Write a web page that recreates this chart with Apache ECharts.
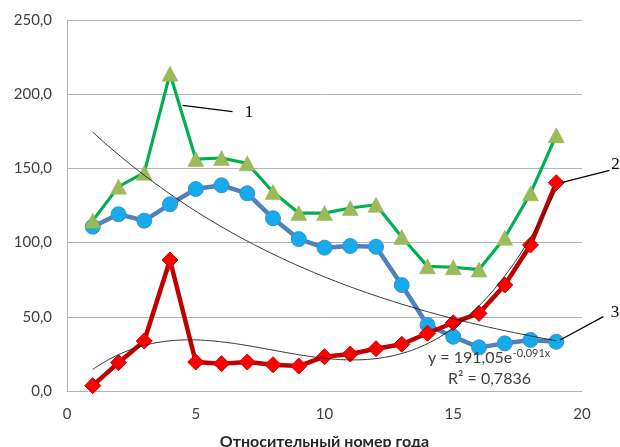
<!DOCTYPE html>
<html>
<head>
<meta charset="utf-8">
<script src="https://cdn.jsdelivr.net/npm/echarts@6/dist/echarts.min.js"></script>
<style>
  html, body { margin: 0; padding: 0; background: #ffffff; }
  #chart { width: 620px; height: 447px; }
</style>
</head>
<body>
<div id="chart"></div>
<script>
// Relative year number (x) and the three observed series
const years = [1, 2, 3, 4, 5, 6, 7, 8, 9, 10, 11, 12, 13, 14, 15, 16, 17, 18, 19];
const series1 = [114.8, 137.7, 147.1, 213.8, 156.3, 157.0, 153.4, 134.1, 119.9, 119.9, 123.3, 125.5, 103.8, 84.0, 83.4, 81.8, 103.3, 133.2, 172.3];
const series2 = [3.6, 19.1, 33.7, 88.3, 19.5, 18.4, 19.5, 17.7, 16.8, 23.1, 24.9, 28.5, 31.5, 38.9, 46.0, 52.3, 71.4, 98.4, 140.4];
const series3 = [110.7, 119.1, 114.8, 125.8, 136.1, 138.6, 133.2, 116.4, 102.4, 96.6, 97.7, 97.2, 71.4, 44.5, 36.6, 29.4, 32.1, 34.4, 33.2];

// Exponential trend of series 3: y = a * e^(b x)
const expA = 191.05;
const expB = -0.091;
const eqMain = 'y = 191,05e';
const eqPower = '-0,091x';
const eqR2 = 'R² = 0,7836';

const xTicks = { min: 0, max: 20, step: 5 };
const yTicks = { min: 0, max: 250, step: 50 };
const xTitle = 'Относительный номер года';

const pairs = (xs, ys) => xs.map((x, i) => [x, ys[i]]);

// Exponential trend curve sampled along the data range
const expCurve = [];
for (let x = years[0]; x <= years[years.length - 1] + 1e-9; x += 0.25) {
  expCurve.push([x, expA * Math.exp(expB * x)]);
}

// Least-squares cubic trend for series 2
function polyFit(xs, ys, deg) {
  const n = deg + 1;
  const A = [];
  for (let r = 0; r < n; r++) {
    A.push(new Array(n + 1).fill(0));
    for (let c = 0; c < n; c++) {
      A[r][c] = xs.reduce((s, x) => s + Math.pow(x, r + c), 0);
    }
    A[r][n] = xs.reduce((s, x, i) => s + Math.pow(x, r) * ys[i], 0);
  }
  for (let i = 0; i < n; i++) {
    let p = i;
    for (let k = i + 1; k < n; k++) if (Math.abs(A[k][i]) > Math.abs(A[p][i])) p = k;
    [A[i], A[p]] = [A[p], A[i]];
    for (let k = i + 1; k < n; k++) {
      const f = A[k][i] / A[i][i];
      for (let j = i; j <= n; j++) A[k][j] -= f * A[i][j];
    }
  }
  const coef = new Array(n).fill(0);
  for (let i = n - 1; i >= 0; i--) {
    let s = A[i][n];
    for (let j = i + 1; j < n; j++) s -= A[i][j] * coef[j];
    coef[i] = s / A[i][i];
  }
  return coef;
}
const cubic = polyFit(years, series2, 3);
const polyCurve = [];
for (let x = years[0]; x <= years[years.length - 1] + 1e-9; x += 0.25) {
  polyCurve.push([x, cubic.reduce((s, c, k) => s + c * Math.pow(x, k), 0)]);
}

const labelFont = 'Lato, "Open Sans", sans-serif';
const textColor = '#404040';
const gridColor = '#b4b4b4';

const chart = echarts.init(document.getElementById('chart'), null, { renderer: 'canvas' });

chart.setOption({
  animation: false,
  backgroundColor: '#ffffff',
  grid: { left: 67, right: 38, top: 20, bottom: 56, containLabel: false, outerBoundsMode: 'none' },
  xAxis: {
    type: 'value',
    min: xTicks.min, max: xTicks.max, interval: xTicks.step,
    axisLine: { show: true, lineStyle: { color: gridColor, width: 1 } },
    axisTick: { show: false },
    splitLine: { show: false },
    axisLabel: { color: textColor, fontFamily: labelFont, fontSize: 15, margin: 16 },
    name: xTitle,
    nameLocation: 'middle',
    nameGap: 43,
    nameTextStyle: { color: '#262626', fontFamily: labelFont, fontSize: 16, fontWeight: 'bold' }
  },
  yAxis: {
    type: 'value',
    min: yTicks.min, max: yTicks.max, interval: yTicks.step,
    axisLine: { show: true, lineStyle: { color: gridColor, width: 1 } },
    axisTick: { show: false },
    splitLine: { show: true, lineStyle: { color: gridColor, width: 1 } },
    axisLabel: {
      color: textColor, fontFamily: labelFont, fontSize: 15, margin: 15,
      formatter: v => v.toFixed(1).replace('.', ',')
    }
  },
  series: [
    {
      name: '3', type: 'line', data: pairs(years, series3),
      symbol: 'circle', symbolSize: 15,
      lineStyle: { color: '#4f81bd', width: 4.5 },
      itemStyle: { color: '#16acec', borderColor: '#3d8fd0', borderWidth: 1 },
      z: 2
    },
    {
      name: '1', type: 'line', data: pairs(years, series1),
      symbol: 'triangle', symbolSize: [16, 15],
      lineStyle: { color: '#00b050', width: 3.2 },
      itemStyle: { color: '#9bbb59', borderColor: '#8fb04f', borderWidth: 0.5 },
      z: 3
    },
    {
      name: '2', type: 'line', data: pairs(years, series2),
      symbol: 'diamond', symbolSize: 16,
      lineStyle: { color: '#c00000', width: 4.5 },
      itemStyle: { color: '#ff0000', borderColor: '#d00000', borderWidth: 1 },
      z: 4
    },
    {
      name: 'exp-trend', type: 'line', data: expCurve, smooth: true,
      symbol: 'none', lineStyle: { color: '#1a1a1a', width: 0.9 }, z: 5
    },
    {
      name: 'poly-trend', type: 'line', data: polyCurve, smooth: true,
      symbol: 'none', lineStyle: { color: '#1a1a1a', width: 0.9 }, z: 5
    }
  ]
});

// Callout leaders and text, anchored in data coordinates
const callouts = [
  { text: '1', from: [4.49, 192.5], to: [6.43, 188.2], at: [7.07, 187.5] },
  { text: '2', from: [19.2, 140.4], to: [21.07, 148.7], at: [21.3, 152.3] },
  { text: '3', from: [19.15, 34.4], to: [20.83, 50.1], at: [21.28, 52.6] }
];
const px = p => chart.convertToPixel({ gridIndex: 0 }, p);
const graphics = [];
callouts.forEach(c => {
  const a = px(c.from), b = px(c.to), t = px(c.at);
  graphics.push({
    type: 'line', shape: { x1: a[0], y1: a[1], x2: b[0], y2: b[1] },
    style: { stroke: '#000000', lineWidth: 1.2 }, z: 10
  });
  graphics.push({
    type: 'text', x: t[0], y: t[1],
    style: { text: c.text, fill: '#000000', font: '17px "Liberation Serif", serif', textAlign: 'center', textVerticalAlign: 'middle' },
    z: 10
  });
});

// Trend equation: base text followed by a raised exponent
const mainFont = '16px ' + labelFont;
const supFont = '11px ' + labelFont;
const measureCtx = document.createElement('canvas').getContext('2d');
measureCtx.font = mainFont;
const mainWidth = measureCtx.measureText(eqMain).width;
const eqPos = px([14.02, 22.2]);
const r2Pos = px([14.8, 8.1]);
graphics.push({
  type: 'text', x: eqPos[0], y: eqPos[1], z: 10,
  style: { text: eqMain, fill: textColor, font: mainFont, textVerticalAlign: 'middle' }
});
graphics.push({
  type: 'text', x: eqPos[0] + mainWidth + 0.5, y: eqPos[1] - 5, z: 10,
  style: { text: eqPower, fill: textColor, font: supFont, textVerticalAlign: 'middle' }
});
graphics.push({
  type: 'text', x: r2Pos[0], y: r2Pos[1], z: 10,
  style: { text: eqR2, fill: textColor, font: mainFont, textVerticalAlign: 'middle' }
});
chart.setOption({ graphic: graphics });
</script>
</body>
</html>
